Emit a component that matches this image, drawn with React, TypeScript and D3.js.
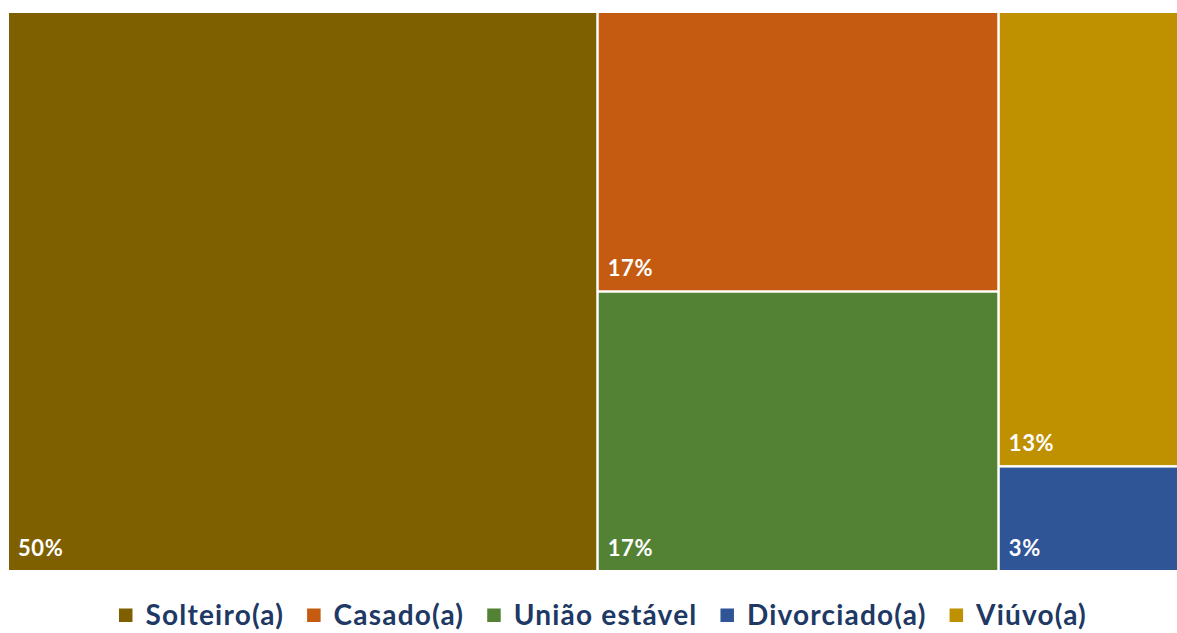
import React, { useEffect, useRef } from "react";
import * as d3 from "d3";

const categories = ["Solteiro(a)", "Casado(a)", "União estável", "Divorciado(a)", "Viúvo(a)"];
const values = [50, 17, 17, 3, 13];
const colors = ["#7F6000", "#C55A11", "#548235", "#2F5597", "#BF9000"];
const layoutOrder = ["Solteiro(a)", "Casado(a)", "União estável", "Viúvo(a)", "Divorciado(a)"];

export default function App() {
  const ref = useRef<SVGSVGElement>(null);
  useEffect(() => {
    const svg = d3.select(ref.current);
    svg.selectAll("*").remove();
    const data = layoutOrder.map((c) => {
      const i = categories.indexOf(c);
      return { name: c, value: values[i], color: colors[i] };
    });
    const root = d3
      .hierarchy<any>({ children: data })
      .sum((d: any) => d.value || 0);
    const total = d3.sum(values);
    d3.treemap<any>()
      .tile(d3.treemapSquarify.ratio(1))
      .size([1177, 557])
      .paddingInner(2.5)(root);

    const g = svg.append("g").attr("transform", "translate(9,13)");
    const leaves = root.leaves() as any[];
    g.selectAll("rect")
      .data(leaves)
      .join("rect")
      .attr("x", (d) => d.x0)
      .attr("y", (d) => d.y0)
      .attr("width", (d) => d.x1 - d.x0)
      .attr("height", (d) => d.y1 - d.y0)
      .attr("fill", (d) => d.data.color);
    g.selectAll("text.lbl")
      .data(leaves)
      .join("text")
      .attr("class", "lbl")
      .attr("x", (d) => d.x0 + 9)
      .attr("y", (d) => d.y1 - 14)
      .attr("fill", "#ffffff")
      .attr("font-family", "Lato, 'Open Sans', sans-serif")
      .attr("font-weight", 700)
      .attr("font-size", 22)
      .attr("letter-spacing", 0.6)
      .text((d) => `${Math.round((d.data.value / total) * 100)}%`);

    // legend
    const lg = svg.append("g");
    const items = categories.map((c, i) => ({ name: c, color: colors[i] }));
    const sq = 13.5;
    const gapSqText = 13;
    const gapItems = 23;
    const texts: number[] = [];
    const tmp = lg
      .selectAll("text")
      .data(items)
      .join("text")
      .attr("font-family", "Lato, 'Open Sans', sans-serif")
      .attr("font-weight", 700)
      .attr("font-size", 28)
      .attr("letter-spacing", 1.2)
      .attr("fill", "#203864")
      .text((d) => d.name);
    tmp.each(function () {
      texts.push((this as SVGTextElement).getComputedTextLength());
    });
    const totalW =
      d3.sum(texts) + items.length * (sq + gapSqText) + (items.length - 1) * gapItems;
    let x = 603 - totalW / 2;
    const baseY = 625;
    items.forEach((it, i) => {
      lg.append("rect")
        .attr("x", x)
        .attr("y", 608.5)
        .attr("width", sq)
        .attr("height", sq)
        .attr("fill", it.color);
      x += sq + gapSqText;
      d3.select(tmp.nodes()[i]).attr("x", x).attr("y", baseY);
      x += texts[i] + gapItems;
    });
  }, []);
  return (
    <svg
      ref={ref}
      width={1177}
      height={633}
      style={{ position: "absolute", left: 0, top: 0, background: "#fff" }}
    />
  );
}
